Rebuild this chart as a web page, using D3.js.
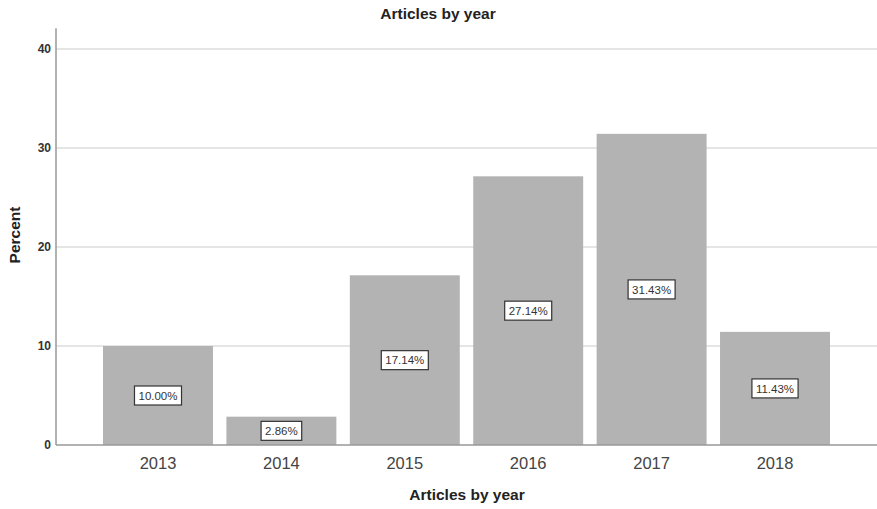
<!DOCTYPE html>
<html>
<head>
<meta charset="utf-8">
<script src="https://cdn.jsdelivr.net/npm/d3@7"></script>
<style>
  body { margin: 0; background: #fff; }
  text { font-family: "Liberation Sans", Arial, sans-serif; }
</style>
</head>
<body>
<svg id="chart" width="877" height="509"></svg>
<script>
const years = ["2013", "2014", "2015", "2016", "2017", "2018"];
const percents = [10.00, 2.86, 17.14, 27.14, 31.43, 11.43];
const yTicks = [0, 10, 20, 30, 40];

const svg = d3.select("#chart");
const left = 56, right = 877, bottom = 445;

const x = d3.scaleBand().domain(years).range([left, right])
  .paddingInner(0.109).paddingOuter(0.381);
const y = d3.scaleLinear().domain([0, 40]).range([bottom, 49]);
const axisTop = y(42.1);

// grid lines
svg.append("g").selectAll("line").data(yTicks.filter(d => d > 0)).join("line")
  .attr("x1", left).attr("x2", right)
  .attr("y1", d => y(d)).attr("y2", d => y(d))
  .attr("stroke", "#dcdcdc").attr("stroke-width", 1.5);

// bars
svg.append("g").selectAll("rect").data(years).join("rect")
  .attr("x", d => x(d))
  .attr("width", x.bandwidth())
  .attr("y", (d, i) => y(percents[i]))
  .attr("height", (d, i) => bottom - y(percents[i]))
  .attr("fill", "#b3b3b3");

// y axis
const yAxis = svg.append("g").attr("transform", `translate(${left},0)`)
  .call(d3.axisLeft(y).tickValues(yTicks).tickSize(0).tickPadding(5));
yAxis.select(".domain").remove();
yAxis.selectAll("text").attr("font-size", 12).attr("fill", "#333").attr("font-weight", "bold");
svg.append("line").attr("x1", left).attr("x2", left).attr("y1", axisTop).attr("y2", bottom)
  .attr("stroke", "#999").attr("stroke-width", 1.5);

// x axis
const xAxis = svg.append("g").attr("transform", `translate(0,${bottom})`)
  .call(d3.axisBottom(x).tickSize(0).tickPadding(12));
xAxis.select(".domain").remove();
xAxis.selectAll("text").attr("font-size", 16.5).attr("fill", "#444");
svg.append("line").attr("x1", left).attr("x2", right).attr("y1", bottom).attr("y2", bottom)
  .attr("stroke", "#999").attr("stroke-width", 1.5);

// value labels, boxed at mid-height of each bar
const labels = svg.append("g").selectAll("g").data(years).join("g")
  .attr("transform", (d, i) => `translate(${x(d) + x.bandwidth() / 2},${y(percents[i] / 2)})`);
const labelText = labels.append("text")
  .attr("text-anchor", "middle").attr("dy", "0.36em")
  .attr("font-size", 11.5).attr("fill", "#333")
  .text((d, i) => percents[i].toFixed(2) + "%");
labelText.each(function () {
  const w = this.getComputedTextLength() + 8;
  d3.select(this.parentNode).insert("rect", "text")
    .attr("x", -w / 2).attr("y", -9.5).attr("width", w).attr("height", 19)
    .attr("fill", "#fff").attr("stroke", "#333").attr("stroke-width", 1.2);
});

// titles
svg.append("text").attr("x", 438).attr("y", 19).attr("text-anchor", "middle")
  .attr("font-size", 15.5).attr("font-weight", "bold").attr("fill", "#222")
  .text("Articles by year");
svg.append("text").attr("x", 467).attr("y", 500).attr("text-anchor", "middle")
  .attr("font-size", 15.5).attr("font-weight", "bold").attr("fill", "#222")
  .text("Articles by year");
svg.append("text").attr("transform", "translate(20,235) rotate(-90)").attr("text-anchor", "middle")
  .attr("font-size", 15.5).attr("font-weight", "bold").attr("fill", "#222")
  .text("Percent");
</script>
</body>
</html>
